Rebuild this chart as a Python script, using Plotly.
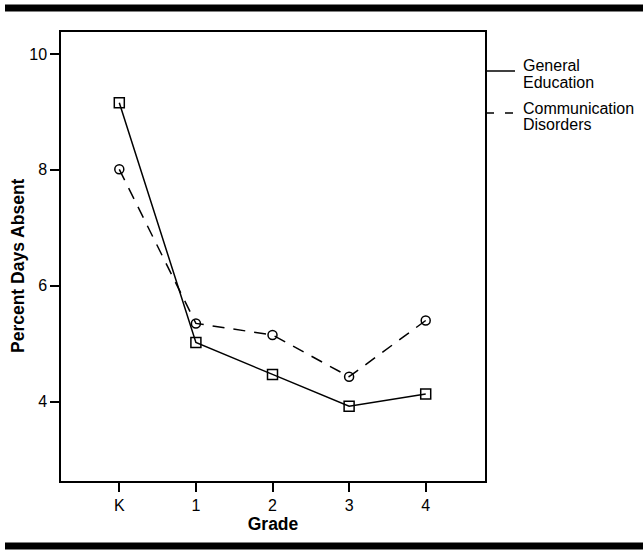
import plotly.graph_objects as go

grades = ["K", "1", "2", "3", "4"]
general_education = [9.16, 5.02, 4.47, 3.92, 4.13]
communication_disorders = [8.01, 5.35, 5.15, 4.43, 5.40]
y_ticks = [4, 6, 8, 10]

FONT = "Arial, Liberation Sans, Helvetica, sans-serif"
xpos = list(range(len(grades)))

fig = go.Figure()
fig.add_trace(go.Scatter(
    x=xpos, y=general_education, mode="lines+markers",
    line=dict(color="black", width=1.5),
    marker=dict(symbol="square-open", size=10, color="black", line=dict(width=1.5)),
    showlegend=False, name="General Education"))
fig.add_trace(go.Scatter(
    x=xpos, y=communication_disorders, mode="lines+markers",
    line=dict(color="black", width=1.5, dash="12px,9px"),
    marker=dict(symbol="circle-open", size=9, color="black", line=dict(width=1.5)),
    showlegend=False, name="Communication Disorders"))

W, H = 643, 559
ml, mr, mt, mb = 61, 158, 32, 78
pw = W - ml - mr
ph = H - mt - mb

def px2paper_x(px):
    return (px - ml) / pw

def px2paper_y(py):
    return 1 - (py - mt) / ph

shapes = []
# top and bottom rules
for yc in (8.0, 546.0):
    shapes.append(dict(type="line", xref="paper", yref="paper",
                       x0=px2paper_x(5), x1=px2paper_x(643),
                       y0=px2paper_y(yc), y1=px2paper_y(yc),
                       line=dict(color="black", width=7)))
# legend samples
shapes.append(dict(type="line", xref="paper", yref="paper",
                   x0=1, x1=px2paper_x(515), y0=px2paper_y(71), y1=px2paper_y(71),
                   line=dict(color="black", width=1.5)))
shapes.append(dict(type="line", xref="paper", yref="paper",
                   x0=px2paper_x(486), x1=px2paper_x(514), y0=px2paper_y(113), y1=px2paper_y(113),
                   line=dict(color="black", width=1.5, dash="8px,11px")))

annotations = []
for txt, yc in (("General", 65), ("Education", 82), ("Communication", 108), ("Disorders", 124)):
    annotations.append(dict(text=txt, xref="paper", yref="paper",
                            x=px2paper_x(521), y=px2paper_y(yc),
                            xanchor="left", yanchor="middle", showarrow=False,
                            font=dict(family=FONT, size=16, color="black")))
annotations.append(dict(text="<b>Percent Days Absent</b>", xref="paper", yref="paper",
                        x=px2paper_x(18), y=px2paper_y(266), textangle=-90,
                        xanchor="center", yanchor="middle", showarrow=False,
                        font=dict(family=FONT, size=17.5, color="black")))

fig.update_layout(
    width=W, height=H,
    margin=dict(l=ml, r=mr, t=mt, b=mb),
    paper_bgcolor="white", plot_bgcolor="white",
    font=dict(family=FONT, color="black"),
    shapes=shapes, annotations=annotations,
    xaxis=dict(
        range=[-0.761, 4.774], tickmode="array", tickvals=xpos, ticktext=grades,
        showgrid=False, zeroline=False, showline=True, linecolor="black", linewidth=1.5,
        mirror=True, ticks="outside", ticklen=9, tickwidth=1.5, tickcolor="black",
        tickfont=dict(family=FONT, size=16, color="black"),
        title=dict(text="<b>Grade</b>", font=dict(family=FONT, size=17.5, color="black"), standoff=4),
    ),
    yaxis=dict(
        range=[2.63, 10.38], tickmode="array", tickvals=y_ticks,
        showgrid=False, zeroline=False, showline=True, linecolor="black", linewidth=1.5,
        mirror=True, ticks="outside", ticklen=9, tickwidth=1.5, tickcolor="black",
        tickfont=dict(family=FONT, size=16, color="black"),
    ),
)

fig.write_html("out.html", config={"displayModeBar": False},
               post_script="document.body.style.margin='0';document.body.style.overflow='hidden';")
